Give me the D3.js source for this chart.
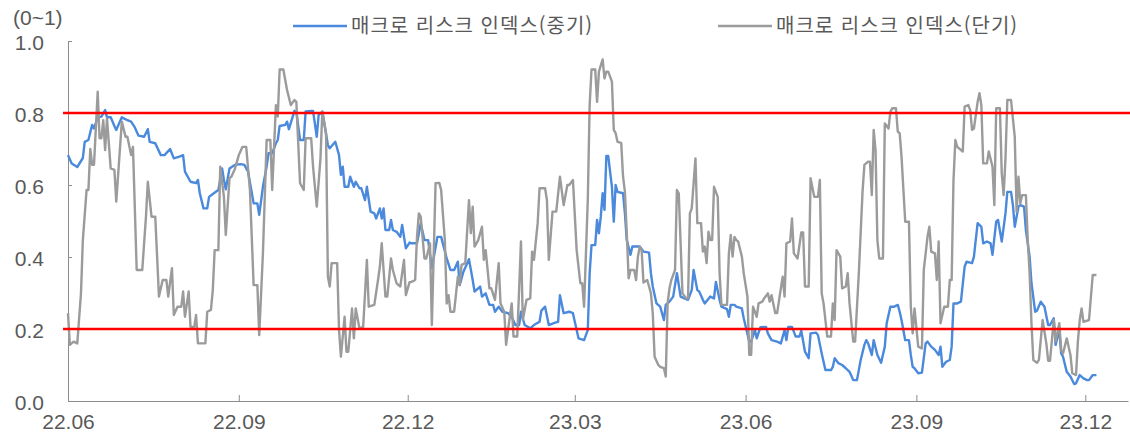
<!DOCTYPE html>
<html lang="ko">
<head>
<meta charset="utf-8">
<script src="https://cdn.jsdelivr.net/npm/d3@7"></script>
<style>
  html, body { margin: 0; padding: 0; background: #fff; }
  svg { display: block; }
</style>
</head>
<body>
<div id="chart"></div>
<script>
// series names (legend order)
const seriesNames = ['매크로 리스크 인덱스(중기)', '매크로 리스크 인덱스(단기)'];

// 중기 index, [date, value]
const midTerm = [
  ['2022-06-01',0.683],['2022-06-03',0.66],['2022-06-06',0.65],['2022-06-09',0.675],['2022-06-10',0.72],
  ['2022-06-12',0.725],['2022-06-14',0.767],['2022-06-15',0.757],['2022-06-17',0.788],['2022-06-19',0.79],
  ['2022-06-21',0.808],['2022-06-22',0.788],['2022-06-24',0.788],['2022-06-26',0.764],['2022-06-27',0.753],
  ['2022-06-30',0.788],['2022-07-03',0.78],['2022-07-05',0.776],['2022-07-07',0.76],['2022-07-09',0.737],
  ['2022-07-12',0.734],['2022-07-14',0.755],['2022-07-15',0.72],['2022-07-18',0.716],['2022-07-21',0.683],
  ['2022-07-23',0.683],['2022-07-26',0.70],['2022-07-28',0.674],['2022-07-31',0.679],['2022-08-02',0.683],
  ['2022-08-03',0.637],['2022-08-06',0.609],['2022-08-09',0.605],['2022-08-10',0.614],['2022-08-11',0.577],
  ['2022-08-13',0.535],['2022-08-15',0.535],['2022-08-16',0.567],['2022-08-18',0.575],['2022-08-21',0.586],
  ['2022-08-23',0.646],['2022-08-24',0.614],['2022-08-25',0.588],['2022-08-27',0.646],['2022-08-30',0.656],
  ['2022-09-02',0.658],['2022-09-04',0.656],['2022-09-06',0.637],['2022-09-09',0.549],['2022-09-11',0.549],
  ['2022-09-12',0.517],['2022-09-14',0.595],['2022-09-16',0.651],['2022-09-17',0.688],['2022-09-19',0.688],
  ['2022-09-21',0.716],['2022-09-22',0.725],['2022-09-23',0.764],['2022-09-26',0.767],['2022-09-27',0.776],
  ['2022-09-28',0.755],['2022-10-01',0.806],['2022-10-02',0.804],['2022-10-04',0.725],['2022-10-06',0.725],
  ['2022-10-07',0.804],['2022-10-10',0.806],['2022-10-11',0.806],['2022-10-13',0.734],['2022-10-14',0.794],
  ['2022-10-16',0.804],['2022-10-19',0.711],['2022-10-20',0.702],['2022-10-23',0.72],['2022-10-25',0.683],
  ['2022-10-26',0.628],['2022-10-27',0.651],['2022-10-28',0.595],['2022-10-30',0.595],['2022-10-31',0.623],
  ['2022-11-02',0.595],['2022-11-03',0.609],['2022-11-05',0.591],['2022-11-06',0.591],['2022-11-08',0.558],
  ['2022-11-09',0.595],['2022-11-11',0.526],['2022-11-13',0.521],['2022-11-14',0.507],['2022-11-16',0.535],
  ['2022-11-17',0.507],['2022-11-18',0.535],['2022-11-19',0.475],['2022-11-21',0.475],['2022-11-22',0.503],
  ['2022-11-23',0.475],['2022-11-25',0.47],['2022-11-27',0.456],['2022-11-28',0.489],['2022-11-30',0.424],
  ['2022-12-02',0.44],['2022-12-03',0.438],['2022-12-06',0.438],['2022-12-08',0.494],['2022-12-10',0.447],
  ['2022-12-12',0.447],['2022-12-14',0.369],['2022-12-17',0.456],['2022-12-19',0.456],['2022-12-22',0.396],
  ['2022-12-24',0.364],['2022-12-26',0.364],['2022-12-28',0.387],['2022-12-29',0.322],['2022-12-31',0.359],
  ['2023-01-03',0.394],['2023-01-05',0.336],['2023-01-06',0.304],['2023-01-09',0.318],['2023-01-10',0.29],
  ['2023-01-12',0.299],['2023-01-14',0.267],['2023-01-16',0.267],['2023-01-17',0.248],['2023-01-19',0.262],
  ['2023-01-21',0.248],['2023-01-24',0.244],['2023-01-26',0.234],['2023-01-28',0.211],['2023-01-30',0.211],
  ['2023-01-31',0.248],['2023-02-02',0.211],['2023-02-05',0.202],['2023-02-07',0.211],['2023-02-10',0.22],
  ['2023-02-11',0.251],['2023-02-13',0.262],['2023-02-15',0.211],['2023-02-18',0.217],['2023-02-20',0.22],
  ['2023-02-21',0.294],['2023-02-23',0.244],['2023-02-26',0.248],['2023-02-28',0.244],['2023-03-01',0.22],
  ['2023-03-03',0.174],['2023-03-06',0.169],['2023-03-08',0.197],['2023-03-09',0.355],['2023-03-10',0.433],
  ['2023-03-12',0.433],['2023-03-13',0.503],['2023-03-14',0.466],['2023-03-15',0.512],['2023-03-16',0.577],
  ['2023-03-17',0.531],['2023-03-18',0.681],['2023-03-19',0.681],['2023-03-21',0.595],['2023-03-22',0.498],
  ['2023-03-23',0.60],['2023-03-24',0.581],['2023-03-27',0.577],['2023-03-28',0.521],['2023-03-29',0.447],
  ['2023-03-31',0.406],['2023-04-01',0.429],['2023-04-05',0.429],['2023-04-07',0.415],['2023-04-10',0.412],
  ['2023-04-11',0.355],['2023-04-12',0.318],['2023-04-14',0.271],['2023-04-16',0.262],['2023-04-18',0.225],
  ['2023-04-19',0.267],['2023-04-21',0.276],['2023-04-23',0.29],['2023-04-25',0.355],['2023-04-27',0.29],
  ['2023-04-29',0.285],['2023-05-01',0.281],['2023-05-03',0.308],['2023-05-04',0.364],['2023-05-06',0.308],
  ['2023-05-07',0.304],['2023-05-09',0.281],['2023-05-10',0.271],['2023-05-13',0.29],['2023-05-15',0.285],
  ['2023-05-16',0.331],['2023-05-18',0.281],['2023-05-19',0.262],['2023-05-22',0.255],['2023-05-23',0.234],
  ['2023-05-24',0.267],['2023-05-26',0.267],['2023-05-27',0.262],['2023-05-30',0.257],['2023-05-31',0.23],
  ['2023-06-03',0.165],['2023-06-04',0.165],['2023-06-06',0.197],['2023-06-07',0.174],['2023-06-09',0.205],
  ['2023-06-12',0.206],['2023-06-13',0.188],['2023-06-15',0.169],['2023-06-18',0.165],['2023-06-20',0.16],
  ['2023-06-22',0.197],['2023-06-23',0.169],['2023-06-24',0.206],['2023-06-26',0.206],['2023-06-28',0.179],
  ['2023-06-30',0.179],['2023-07-01',0.195],['2023-07-03',0.137],['2023-07-05',0.119],['2023-07-06',0.188],
  ['2023-07-09',0.19],['2023-07-10',0.183],['2023-07-12',0.132],['2023-07-14',0.086],['2023-07-17',0.086],
  ['2023-07-18',0.095],['2023-07-19',0.119],['2023-07-21',0.105],['2023-07-23',0.10],['2023-07-25',0.091],
  ['2023-07-27',0.081],['2023-07-29',0.058],['2023-07-31',0.058],['2023-08-02',0.114],['2023-08-04',0.156],
  ['2023-08-05',0.169],['2023-08-06',0.16],['2023-08-08',0.128],['2023-08-09',0.169],['2023-08-11',0.128],
  ['2023-08-13',0.106],['2023-08-15',0.151],['2023-08-16',0.216],['2023-08-18',0.262],['2023-08-20',0.262],
  ['2023-08-22',0.267],['2023-08-23',0.248],['2023-08-24',0.225],['2023-08-26',0.169],['2023-08-28',0.169],
  ['2023-08-29',0.128],['2023-08-30',0.095],['2023-08-31',0.091],['2023-09-02',0.077],['2023-09-04',0.079],
  ['2023-09-06',0.16],['2023-09-07',0.165],['2023-09-09',0.151],['2023-09-11',0.142],['2023-09-13',0.128],
  ['2023-09-14',0.151],['2023-09-15',0.095],['2023-09-17',0.109],['2023-09-19',0.114],['2023-09-20',0.151],
  ['2023-09-21',0.271],['2023-09-23',0.271],['2023-09-25',0.276],['2023-09-27',0.373],['2023-09-28',0.387],
  ['2023-10-01',0.383],['2023-10-02',0.401],['2023-10-04',0.494],['2023-10-06',0.484],['2023-10-07',0.438],
  ['2023-10-09',0.443],['2023-10-11',0.438],['2023-10-12',0.406],['2023-10-14',0.498],['2023-10-15',0.503],
  ['2023-10-17',0.443],['2023-10-19',0.521],['2023-10-20',0.581],['2023-10-22',0.581],['2023-10-23',0.544],
  ['2023-10-24',0.484],['2023-10-26',0.54],['2023-10-27',0.544],['2023-10-29',0.54],['2023-10-30',0.475],
  ['2023-11-01',0.401],['2023-11-02',0.327],['2023-11-04',0.248],['2023-11-05',0.251],['2023-11-07',0.276],
  ['2023-11-09',0.262],['2023-11-11',0.211],['2023-11-12',0.211],['2023-11-14',0.23],['2023-11-15',0.156],
  ['2023-11-17',0.197],['2023-11-18',0.132],['2023-11-19',0.123],['2023-11-21',0.081],['2023-11-23',0.068],
  ['2023-11-25',0.047],['2023-11-26',0.049],['2023-11-28',0.072],['2023-11-30',0.063],['2023-12-02',0.058],
  ['2023-12-03',0.058],['2023-12-05',0.072],['2023-12-07',0.072]
];

// 단기 index, [date, value]
const shortTerm = [
  ['2022-06-01',0.244],['2022-06-02',0.156],['2022-06-04',0.165],['2022-06-06',0.16],['2022-06-08',0.30],
  ['2022-06-09',0.447],['2022-06-11',0.586],['2022-06-12',0.586],['2022-06-13',0.70],['2022-06-14',0.656],
  ['2022-06-15',0.656],['2022-06-17',0.859],['2022-06-18',0.73],['2022-06-19',0.73],['2022-06-20',0.78],
  ['2022-06-21',0.697],['2022-06-22',0.785],['2022-06-24',0.646],['2022-06-26',0.642],['2022-06-27',0.554],
  ['2022-06-30',0.776],['2022-07-02',0.734],['2022-07-03',0.734],['2022-07-05',0.683],['2022-07-06',0.706],
  ['2022-07-08',0.364],['2022-07-11',0.364],['2022-07-13',0.512],['2022-07-14',0.609],['2022-07-16',0.512],
  ['2022-07-18',0.512],['2022-07-20',0.29],['2022-07-22',0.336],['2022-07-24',0.336],['2022-07-25',0.29],
  ['2022-07-27',0.369],['2022-07-28',0.239],['2022-07-30',0.262],['2022-08-01',0.262],['2022-08-02',0.304],
  ['2022-08-03',0.234],['2022-08-05',0.304],['2022-08-06',0.206],['2022-08-08',0.206],['2022-08-09',0.239],
  ['2022-08-10',0.16],['2022-08-12',0.16],['2022-08-14',0.16],['2022-08-15',0.248],['2022-08-17',0.253],
  ['2022-08-18',0.308],['2022-08-19',0.419],['2022-08-21',0.419],['2022-08-22',0.651],['2022-08-24',0.567],
  ['2022-08-25',0.461],['2022-08-27',0.619],['2022-08-28',0.623],['2022-08-30',0.646],['2022-09-01',0.683],
  ['2022-09-03',0.706],['2022-09-05',0.706],['2022-09-07',0.586],['2022-09-09',0.322],['2022-09-11',0.322],
  ['2022-09-12',0.183],['2022-09-14',0.41],['2022-09-16',0.725],['2022-09-18',0.725],['2022-09-19',0.586],
  ['2022-09-21',0.822],['2022-09-22',0.79],['2022-09-23',0.921],['2022-09-25',0.921],['2022-09-27',0.864],
  ['2022-09-29',0.822],['2022-10-01',0.836],['2022-10-02',0.831],['2022-10-04',0.605],['2022-10-06',0.586],
  ['2022-10-07',0.73],['2022-10-10',0.73],['2022-10-11',0.651],['2022-10-13',0.54],['2022-10-15',0.674],
  ['2022-10-16',0.804],['2022-10-18',0.744],['2022-10-19',0.345],['2022-10-20',0.318],['2022-10-21',0.383],
  ['2022-10-24',0.383],['2022-10-25',0.197],['2022-10-26',0.123],['2022-10-28',0.234],['2022-10-29',0.137],
  ['2022-10-30',0.137],['2022-11-01',0.257],['2022-11-02',0.174],['2022-11-03',0.257],['2022-11-05',0.202],
  ['2022-11-07',0.206],['2022-11-09',0.392],['2022-11-10',0.262],['2022-11-13',0.267],['2022-11-15',0.336],
  ['2022-11-16',0.373],['2022-11-17',0.438],['2022-11-19',0.29],['2022-11-20',0.29],['2022-11-22',0.396],
  ['2022-11-23',0.364],['2022-11-25',0.327],['2022-11-27',0.318],['2022-11-29',0.392],['2022-11-30',0.294],
  ['2022-12-02',0.33],['2022-12-03',0.331],['2022-12-05',0.336],['2022-12-06',0.456],['2022-12-07',0.521],
  ['2022-12-08',0.512],['2022-12-10',0.396],['2022-12-11',0.396],['2022-12-13',0.438],['2022-12-14',0.211],
  ['2022-12-16',0.605],['2022-12-18',0.606],['2022-12-19',0.586],['2022-12-21',0.447],['2022-12-22',0.271],
  ['2022-12-23',0.294],['2022-12-24',0.248],['2022-12-26',0.248],['2022-12-28',0.345],['2022-12-29',0.322],
  ['2022-12-30',0.378],['2023-01-01',0.383],['2023-01-03',0.558],['2023-01-04',0.466],['2023-01-05',0.54],
  ['2023-01-06',0.429],['2023-01-08',0.447],['2023-01-10',0.484],['2023-01-11',0.392],['2023-01-12',0.419],
  ['2023-01-14',0.313],['2023-01-15',0.313],['2023-01-17',0.281],['2023-01-19',0.383],['2023-01-20',0.271],
  ['2023-01-22',0.248],['2023-01-23',0.156],['2023-01-25',0.234],['2023-01-26',0.271],['2023-01-27',0.179],
  ['2023-01-29',0.179],['2023-01-30',0.308],['2023-01-31',0.443],['2023-02-01',0.225],['2023-02-03',0.281],
  ['2023-02-05',0.285],['2023-02-06',0.415],['2023-02-07',0.392],['2023-02-09',0.494],['2023-02-10',0.591],
  ['2023-02-13',0.591],['2023-02-14',0.558],['2023-02-15',0.392],['2023-02-17',0.526],['2023-02-19',0.526],
  ['2023-02-21',0.623],['2023-02-23',0.544],['2023-02-25',0.60],['2023-02-26',0.60],['2023-02-28',0.614],
  ['2023-03-02',0.419],['2023-03-04',0.327],['2023-03-05',0.327],['2023-03-06',0.262],['2023-03-08',0.558],
  ['2023-03-09',0.822],['2023-03-10',0.921],['2023-03-12',0.921],['2023-03-13',0.831],['2023-03-14',0.915],
  ['2023-03-16',0.949],['2023-03-17',0.896],['2023-03-18',0.915],['2023-03-19',0.915],['2023-03-21',0.887],
  ['2023-03-22',0.753],['2023-03-23',0.744],['2023-03-24',0.72],['2023-03-26',0.717],['2023-03-27',0.623],
  ['2023-03-28',0.581],['2023-03-29',0.466],['2023-03-30',0.341],['2023-03-31',0.364],['2023-04-02',0.364],
  ['2023-04-03',0.336],['2023-04-04',0.401],['2023-04-05',0.429],['2023-04-06',0.419],['2023-04-07',0.329],
  ['2023-04-09',0.336],['2023-04-10',0.318],['2023-04-11',0.299],['2023-04-12',0.244],['2023-04-13',0.123],
  ['2023-04-15',0.10],['2023-04-16',0.095],['2023-04-18',0.091],['2023-04-19',0.068],['2023-04-20',0.271],
  ['2023-04-21',0.313],['2023-04-22',0.336],['2023-04-24',0.364],['2023-04-25',0.586],['2023-04-26',0.577],
  ['2023-04-28',0.299],['2023-04-30',0.285],['2023-05-01',0.285],['2023-05-02',0.521],['2023-05-03',0.535],
  ['2023-05-05',0.674],['2023-05-06',0.494],['2023-05-08',0.494],['2023-05-09',0.415],['2023-05-10',0.429],
  ['2023-05-11',0.383],['2023-05-12',0.47],['2023-05-13',0.447],['2023-05-14',0.447],['2023-05-15',0.595],
  ['2023-05-17',0.567],['2023-05-18',0.355],['2023-05-19',0.267],['2023-05-22',0.267],['2023-05-23',0.41],
  ['2023-05-24',0.461],['2023-05-25',0.401],['2023-05-26',0.456],['2023-05-27',0.447],['2023-05-28',0.443],
  ['2023-05-30',0.401],['2023-05-31',0.355],['2023-06-02',0.29],['2023-06-03',0.128],['2023-06-04',0.128],
  ['2023-06-05',0.262],['2023-06-07',0.234],['2023-06-08',0.271],['2023-06-10',0.276],['2023-06-11',0.285],
  ['2023-06-13',0.299],['2023-06-14',0.276],['2023-06-15',0.294],['2023-06-17',0.244],['2023-06-18',0.244],
  ['2023-06-20',0.313],['2023-06-21',0.345],['2023-06-22',0.29],['2023-06-23',0.438],['2023-06-25',0.443],
  ['2023-06-26',0.507],['2023-06-27',0.41],['2023-06-29',0.396],['2023-07-01',0.468],['2023-07-02',0.468],
  ['2023-07-03',0.318],['2023-07-05',0.318],['2023-07-06',0.619],['2023-07-08',0.567],['2023-07-10',0.567],
  ['2023-07-11',0.614],['2023-07-12',0.299],['2023-07-13',0.271],['2023-07-15',0.179],['2023-07-17',0.179],
  ['2023-07-18',0.271],['2023-07-19',0.225],['2023-07-20',0.419],['2023-07-22',0.401],['2023-07-23',0.313],
  ['2023-07-25',0.318],['2023-07-26',0.355],['2023-07-27',0.271],['2023-07-29',0.165],['2023-07-30',0.165],
  ['2023-08-01',0.355],['2023-08-03',0.581],['2023-08-04',0.656],['2023-08-06',0.665],['2023-08-07',0.665],
  ['2023-08-08',0.572],['2023-08-09',0.753],['2023-08-10',0.697],['2023-08-11',0.447],['2023-08-12',0.396],
  ['2023-08-14',0.396],['2023-08-15',0.771],['2023-08-17',0.757],['2023-08-18',0.804],['2023-08-19',0.813],
  ['2023-08-21',0.813],['2023-08-22',0.748],['2023-08-23',0.744],['2023-08-24',0.679],['2023-08-26',0.498],
  ['2023-08-28',0.498],['2023-08-29',0.262],['2023-08-30',0.188],['2023-08-31',0.257],['2023-09-02',0.151],
  ['2023-09-04',0.146],['2023-09-05',0.364],['2023-09-07',0.456],['2023-09-08',0.484],['2023-09-09',0.415],
  ['2023-09-11',0.41],['2023-09-12',0.336],['2023-09-13',0.443],['2023-09-14',0.216],['2023-09-16',0.262],
  ['2023-09-18',0.262],['2023-09-19',0.336],['2023-09-20',0.336],['2023-09-21',0.614],['2023-09-22',0.725],
  ['2023-09-23',0.706],['2023-09-26',0.693],['2023-09-27',0.818],['2023-09-29',0.822],['2023-09-30',0.808],
  ['2023-10-01',0.753],['2023-10-02',0.757],['2023-10-04',0.831],['2023-10-05',0.855],['2023-10-06',0.822],
  ['2023-10-07',0.66],['2023-10-09',0.66],['2023-10-10',0.693],['2023-10-12',0.651],['2023-10-13',0.544],
  ['2023-10-14',0.813],['2023-10-16',0.813],['2023-10-17',0.632],['2023-10-18',0.572],['2023-10-19',0.674],
  ['2023-10-20',0.836],['2023-10-22',0.836],['2023-10-24',0.734],['2023-10-25',0.526],['2023-10-26',0.623],
  ['2023-10-27',0.549],['2023-10-28',0.572],['2023-10-30',0.572],['2023-10-31',0.447],['2023-11-01',0.355],
  ['2023-11-02',0.216],['2023-11-03',0.114],['2023-11-05',0.106],['2023-11-06',0.114],['2023-11-08',0.225],
  ['2023-11-10',0.16],['2023-11-11',0.112],['2023-11-12',0.112],['2023-11-14',0.225],['2023-11-15',0.165],
  ['2023-11-17',0.216],['2023-11-18',0.142],['2023-11-19',0.132],['2023-11-21',0.174],['2023-11-23',0.128],
  ['2023-11-24',0.077],['2023-11-26',0.072],['2023-11-27',0.165],['2023-11-28',0.225],['2023-11-29',0.257],
  ['2023-11-30',0.22],['2023-12-03',0.225],['2023-12-05',0.35],['2023-12-07',0.35]
];

// red reference lines
const thresholds = [0.8, 0.2];

// axis ticks
const yTicks = [0, 0.2, 0.4, 0.6, 0.8, 1.0];
const xTicks = ['2022-06-01', '2022-09-01', '2022-12-01', '2023-03-01', '2023-06-01', '2023-09-01', '2023-12-01'];
const xDomain = ['2022-06-01', '2023-12-24'];
const yUnit = '(0~1)';


const width = 1130;
const height = 437;
const margin = { top: 41, right: 2, bottom: 36, left: 68 };

const numFont = '"Liberation Sans", Arial, sans-serif';
const krFont = '"Noto Sans CJK KR", "Noto Sans", sans-serif';
const textColor = '#595959';
const axisColor = '#8c8c8c';
const colors = ['#4a89dc', '#9b9b9b'];

const parse = d3.timeParse('%Y-%m-%d');

const x = d3.scaleTime()
  .domain(xDomain.map(parse))
  .range([margin.left, width - margin.right]);
const y = d3.scaleLinear()
  .domain([0, 1])
  .range([height - margin.bottom, margin.top]);

const svg = d3.select('#chart')
  .append('svg')
  .attr('width', width)
  .attr('height', height)
  .style('background', '#fff');

// Y Axis
svg.append('g')
  .attr('transform', `translate(${margin.left},0)`)
  .call(d3.axisLeft(y).tickValues(yTicks).tickFormat(d3.format('.1f')).tickSizeInner(-4).tickSizeOuter(0).tickPadding(24))
  .call(g => g.select('.domain').attr('stroke', axisColor))
  .call(g => g.selectAll('.tick line').attr('stroke', axisColor))
  .call(g => g.selectAll('.tick text').attr('fill', textColor).attr('font-family', numFont).attr('font-size', 21).attr('dy', '0.4em'));

// X Axis
svg.append('g')
  .attr('transform', `translate(0,${height - margin.bottom})`)
  .call(d3.axisBottom(x).tickValues(xTicks.map(parse)).tickFormat(d3.timeFormat('%y.%m')).tickSizeInner(-6).tickSizeOuter(0).tickPadding(13))
  .call(g => g.select('.domain').attr('stroke', axisColor))
  .call(g => g.selectAll('.tick line').attr('stroke', axisColor))
  .call(g => g.selectAll('.tick text').attr('fill', textColor).attr('font-family', numFont).attr('font-size', 21));

// unit label
svg.append('text')
  .attr('x', 13)
  .attr('y', 25)
  .attr('fill', textColor)
  .attr('font-family', numFont)
  .attr('font-size', 21)
  .text(yUnit);

// Lines
const line = d3.line()
  .x(d => x(parse(d[0])))
  .y(d => y(d[1]));

[midTerm, shortTerm].forEach((series, i) => {
  svg.append('path')
    .datum(series)
    .attr('fill', 'none')
    .attr('stroke', colors[i])
    .attr('stroke-width', 2.4)
    .attr('stroke-linejoin', 'round')
    .attr('d', line);
});

// Threshold lines (drawn a bit past the axis, like the original)
svg.selectAll('line.threshold')
  .data(thresholds)
  .enter()
  .append('line')
  .attr('class', 'threshold')
  .attr('x1', margin.left - 5)
  .attr('x2', width)
  .attr('y1', d => y(d))
  .attr('y2', d => y(d))
  .attr('stroke', '#ff0000')
  .attr('stroke-width', 2.5);

// Legend
const legendX = [293, 718];
const legend = svg.append('g');
seriesNames.forEach((name, i) => {
  const g = legend.append('g').attr('transform', `translate(${legendX[i]},26)`);
  g.append('line')
    .attr('x1', 0).attr('x2', 54)
    .attr('stroke', colors[i])
    .attr('stroke-width', 2.4);
  g.append('text')
    .attr('x', 58)
    .attr('dy', '0.35em')
    .attr('fill', textColor)
    .attr('font-family', krFont)
    .attr('font-size', 20)
    .attr('letter-spacing', 1)
    .text(name);
});
</script>
</body>
</html>
